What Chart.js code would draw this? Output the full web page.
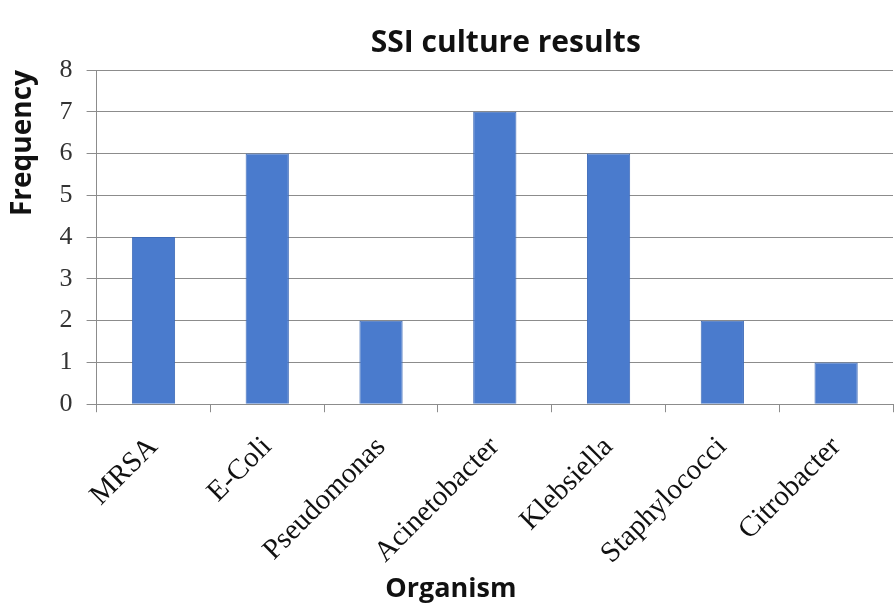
<!DOCTYPE html>
<html>
<head>
<meta charset="utf-8">
<script src="https://cdn.jsdelivr.net/npm/chart.js@4/dist/chart.umd.min.js"></script>
<style>
  html, body { margin: 0; padding: 0; background: #fff; }
  #wrap { width: 896px; height: 608px; }
</style>
</head>
<body>
<div id="wrap"><canvas id="chart"></canvas></div>
<script>
// data
const organisms = ["MRSA", "E-Coli", "Pseudomonas", "Acinetobacter", "Klebsiella", "Staphylococci", "Citrobacter"];
const frequency = [4, 6, 2, 7, 6, 2, 1];
const chartTitle = "SSI culture results";
const xTitle = "Organism";
const yTitle = "Frequency";

const serif = "'Liberation Serif', 'DejaVu Serif', serif";
const sans = "'Open Sans', 'Liberation Sans', sans-serif";

// titles drawn off-centre like the original (Excel-style)
const titlesPlugin = {
  id: "titles",
  afterDraw(chart) {
    const { ctx, chartArea } = chart;
    const mid = (chartArea.left + chartArea.right) / 2;
    ctx.save();
    ctx.fillStyle = "#111";
    ctx.textAlign = "center";
    ctx.textBaseline = "middle";
    ctx.font = "bold 30px " + sans;
    ctx.fillText(chartTitle, mid + 11, 43);
    ctx.font = "bold 27px " + sans;
    ctx.fillText(xTitle, mid - 44, 589);
    ctx.restore();
  },
};

const ctx = document.getElementById("chart").getContext("2d");
new Chart(ctx, {
  type: "bar",
  data: {
    labels: organisms,
    datasets: [{
      label: "Frequency",
      data: frequency,
      backgroundColor: "#4a7bcd",
      borderColor: "#3f6cb8",
      borderWidth: 1,
      barPercentage: 0.38,
      categoryPercentage: 1.0,
    }],
  },
  plugins: [titlesPlugin],
  options: {
    responsive: true,
    maintainAspectRatio: false,
    animation: false,
    layout: {
      padding: { left: 6, right: 3, top: 70, bottom: 19 },
    },
    plugins: {
      legend: { display: false },
      tooltip: { enabled: false },
      title: { display: false },
    },
    scales: {
      y: {
        min: 0,
        max: 8,
        ticks: {
          stepSize: 1,
          color: "#333",
          padding: 14,
          font: { family: serif, size: 26 },
        },
        grid: {
          color: "#8c8c8c",
          lineWidth: 1,
          tickLength: 10,
        },
        border: { color: "#8c8c8c" },
        title: {
          display: true,
          text: yTitle,
          align: "end",
          color: "#111",
          font: { family: sans, size: 28, weight: "bold" },
          padding: { top: 0, bottom: 6 },
        },
      },
      x: {
        ticks: {
          color: "#111",
          maxRotation: 45,
          minRotation: 45,
          padding: 18,
          font: { family: serif, size: 29 },
        },
        grid: {
          display: true,
          drawOnChartArea: false,
          offset: true,
          color: "#8c8c8c",
          tickLength: 8,
        },
        border: { color: "#8c8c8c" },
        title: { display: false },
      },
    },
  },
});
</script>
</body>
</html>
